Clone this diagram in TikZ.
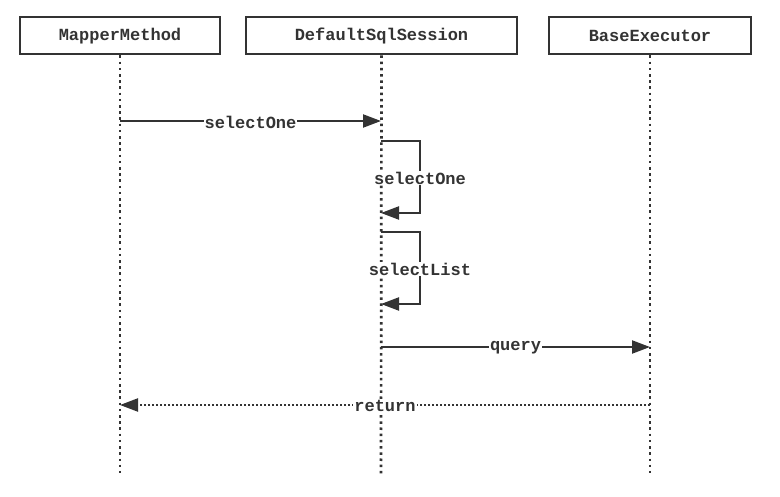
\documentclass[tikz,border=0pt]{standalone}
\usepackage{fontspec}
\setmonofont{Liberation Mono}
\usetikzlibrary{arrows.meta}
\definecolor{ink}{HTML}{333333}
\begin{document}
\begin{tikzpicture}[x=1pt,y=-1pt,
  font=\ttfamily\bfseries\fontsize{17}{20}\selectfont,
  actor/.style={draw=ink, line width=2pt, fill=white, minimum height=37pt, inner sep=0pt, text=ink},
  life/.style={draw=ink, line width=2.7pt, dash pattern=on 2.5pt off 3.7pt},
  msg/.style={draw=ink, line width=2.2pt, -{Triangle[length=18pt,width=13pt]}},
  ret/.style={draw=ink, line width=2.2pt, dash pattern=on 2pt off 2pt, -{Triangle[length=18pt,width=13pt]}},
  lbl/.style={fill=white, inner sep=1pt, text=ink, yshift=-1pt}]
\useasboundingbox (0,0) rectangle (780,497);
% actors
\node[actor, minimum width=200pt] (mm) at (120,36) {MapperMethod};
\node[actor, minimum width=271pt] (ds) at (381.5,36) {DefaultSqlSession};
\node[actor, minimum width=202pt] (be) at (650,36) {BaseExecutor};
% lifeline ends
\coordinate (mmEnd) at (120,476);
\coordinate (dsEnd) at (381,476);
\coordinate (beEnd) at (650,476);
\draw[life] (mm.south) -- (mmEnd);
\draw[life] (ds.south) -- (dsEnd);
\draw[life] (be.south) -- (beEnd);
% message points
\coordinate (a1) at (120,121);
\coordinate (a2) at (381,121);
\coordinate (b1) at (381,141);
\coordinate (b2) at (420,141);
\coordinate (b3) at (420,213);
\coordinate (b4) at (381,213);
\coordinate (c1) at (381,232);
\coordinate (c2) at (420,232);
\coordinate (c3) at (420,304);
\coordinate (c4) at (381,304);
\coordinate (d1) at (381,347);
\coordinate (d2) at (650,347);
\coordinate (e1) at (650,405);
\coordinate (e2) at (120,405);
% messages
\draw[msg] (a1) -- node[lbl] (l1) {selectOne} (a2);
\draw[msg] (b1) -- (b2) -- node[lbl] (l2) {selectOne} (b3) -- (b4);
\draw[msg] (c1) -- (c2) -- node[lbl] (l3) {selectList} (c3) -- (c4);
\draw[msg] (d1) -- node[lbl] (l4) {query} (d2);
\draw[ret] (e1) -- node[lbl] (l5) {return} (e2);
\end{tikzpicture}
\end{document}
